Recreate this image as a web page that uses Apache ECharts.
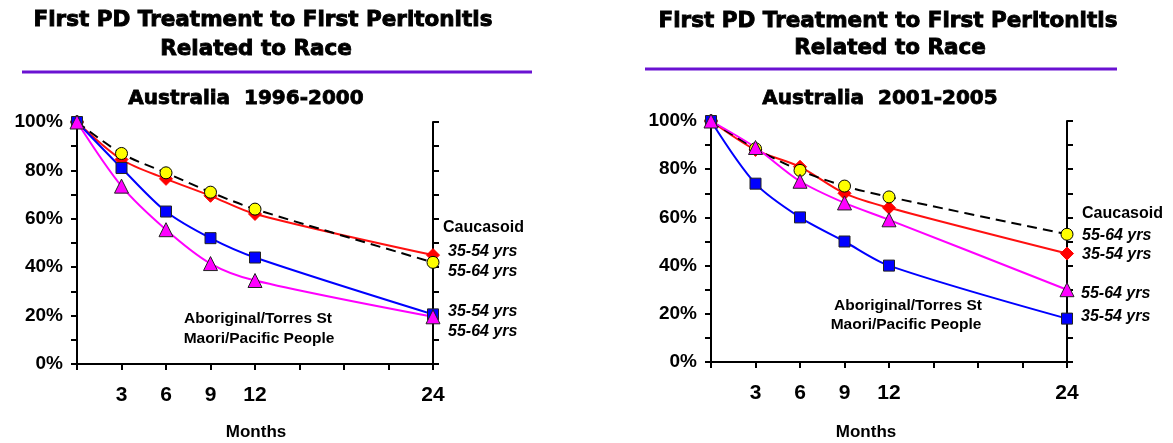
<!DOCTYPE html>
<html>
<head>
<meta charset="utf-8">
<script src="https://cdn.jsdelivr.net/npm/echarts@6/dist/echarts.min.js"></script>
<style>
  html, body { margin: 0; padding: 0; background: #fff; }
  #chart { width: 1173px; height: 443px; }
</style>
</head>
<body>
<div id="chart"></div>
<script>
// Months since first PD treatment
const months = [0, 3, 6, 9, 12, 24];
const monthLabels = [3, 6, 9, 12, 24];

// Australia 1996-2000: % free of peritonitis
const caucasoid3554A = [100, 84.5, 76.5, 69.5, 62, 45];
const caucasoid5564A = [100, 87, 79, 71, 64, 42];
const aboriginal3554A = [100, 81, 63, 52, 44, 20.5];
const aboriginal5564A = [100, 73.5, 55.5, 41.5, 34.5, 19.5];

// Australia 2001-2005: % free of peritonitis
const caucasoid3554B = [100, 88, 81, 70, 64, 45];
const caucasoid5564B = [100, 88.5, 79.5, 73, 68.5, 53];
const aboriginal3554B = [100, 74, 60, 50, 40, 18];
const aboriginal5564B = [100, 89, 75, 66, 59, 30];

const pair = (ys) => months.map((m, i) => [m, ys[i]]);

const chart = echarts.init(document.getElementById('chart'), null, { renderer: 'canvas' });

const axisLineStyle = { color: '#000', width: 2 };

function xAxis(gridIndex) {
  return {
    type: 'value', gridIndex, min: 0, max: 24, interval: 3,
    axisLine: { show: true, onZero: false, lineStyle: axisLineStyle },
    axisTick: { show: true, inside: false, length: 6, lineStyle: axisLineStyle },
    splitLine: { show: false },
    axisLabel: {
      margin: 21, color: '#000', fontFamily: 'Liberation Sans, Arial, sans-serif',
      fontWeight: 'bold', fontSize: 21,
      formatter: v => monthLabels.includes(v) ? String(v) : ''
    }
  };
}
function yAxisLeft(gridIndex) {
  return {
    type: 'value', gridIndex, min: 0, max: 100, interval: 10, position: 'left',
    axisLine: { show: true, lineStyle: axisLineStyle },
    axisTick: { show: true, inside: false, length: 6, lineStyle: axisLineStyle },
    splitLine: { show: false },
    axisLabel: {
      margin: 14, color: '#000', fontFamily: 'Liberation Sans, Arial, sans-serif',
      fontWeight: 'bold', fontSize: 19,
      formatter: v => v % 20 === 0 ? v + '%' : ''
    }
  };
}
function yAxisRight(gridIndex) {
  return {
    type: 'value', gridIndex, min: 0, max: 100, interval: 10, position: 'right',
    axisLine: { show: true, lineStyle: axisLineStyle },
    axisTick: { show: true, inside: false, length: 6, lineStyle: axisLineStyle },
    splitLine: { show: false },
    axisLabel: { show: false }
  };
}

function lineSeries(xi, yi, data, color, symbol, symbolSize, fill, dashed, border) {
  return {
    type: 'line', xAxisIndex: xi, yAxisIndex: yi, data: pair(data),
    smooth: 0.3, symbol, symbolSize,
    lineStyle: { color, width: 2, type: dashed ? [10, 6] : 'solid' },
    itemStyle: { color: fill, borderColor: border, borderWidth: 1 },
    z: 2, silent: true, animation: false
  };
}

function panelSeries(xi, yLeft, c3554, c5564, a3554, a5564) {
  return [
    lineSeries(xi, yLeft, c3554, '#ff1010', 'diamond', 13, '#ff0000', false, '#ff0000'),
    lineSeries(xi, yLeft, c5564, '#000000', 'circle', 12, '#ffff00', true, '#000'),
    lineSeries(xi, yLeft, a3554, '#0000ff', 'rect', 11, '#0000ff', false, '#222'),
    lineSeries(xi, yLeft, a5564, '#ff00ff', 'triangle', 14, '#ff00ff', false, '#222')
  ];
}

const heavy = 'bold 21.5px "DejaVu Sans", sans-serif';
const sub = 'bold 20px "DejaVu Sans", sans-serif';
const lbl = 'bold 16px "Liberation Sans", Arial, sans-serif';
const months18 = 'bold 17px "Liberation Sans", Arial, sans-serif';
const lblIt = 'italic bold 16px "Liberation Sans", Arial, sans-serif';
const grp = 'bold 15.5px "Liberation Sans", Arial, sans-serif';

function txt(x, y, text, font, align, weight) {
  const style = { text, font, fill: '#000', textAlign: align || 'center', textVerticalAlign: 'middle' };
  if (weight) { style.stroke = '#000'; style.lineWidth = weight; }
  return { type: 'text', x, y, silent: true, style };
}

const graphics = [
  // left panel headings
  txt(263, 20, 'First PD Treatment to First Peritonitis', heavy, 'center', 0.9),
  txt(256, 49, 'Related to Race', heavy, 'center', 0.9),
  { type: 'line', silent: true, shape: { x1: 22, y1: 72, x2: 532, y2: 72 },
    style: { stroke: '#6a12d2', lineWidth: 3 } },
  txt(246, 99, 'Australia  1996-2000', sub, 'center', 0.8),
  txt(443, 228, 'Caucasoid', lbl, 'left'),
  txt(448, 252, '35-54 yrs', lblIt, 'left'),
  txt(448, 272, '55-64 yrs', lblIt, 'left'),
  txt(448, 312, '35-54 yrs', lblIt, 'left'),
  txt(448, 332, '55-64 yrs', lblIt, 'left'),
  txt(258, 319, 'Aboriginal/Torres St', grp),
  txt(259, 339, 'Maori/Pacific People', grp),
  txt(256, 432, 'Months', months18),

  // right panel headings
  txt(888, 21, 'First PD Treatment to First Peritonitis', heavy, 'center', 0.9),
  txt(890, 48, 'Related to Race', heavy, 'center', 0.9),
  { type: 'line', silent: true, shape: { x1: 645, y1: 69, x2: 1117, y2: 69 },
    style: { stroke: '#6a12d2', lineWidth: 3 } },
  txt(880, 99, 'Australia  2001-2005', sub, 'center', 0.8),
  txt(1082, 214, 'Caucasoid', lbl, 'left'),
  txt(1082, 236, '55-64 yrs', lblIt, 'left'),
  txt(1082, 255, '35-54 yrs', lblIt, 'left'),
  txt(1081, 294, '55-64 yrs', lblIt, 'left'),
  txt(1081, 317, '35-54 yrs', lblIt, 'left'),
  txt(908, 306, 'Aboriginal/Torres St', grp),
  txt(906, 325, 'Maori/Pacific People', grp),
  txt(866, 432, 'Months', months18)
];

chart.setOption({
  backgroundColor: '#ffffff',
  animation: false,
  grid: [
    { left: 77, top: 122, width: 356, height: 242 },
    { left: 711, top: 121, width: 356, height: 241 }
  ],
  xAxis: [xAxis(0), xAxis(1)],
  yAxis: [yAxisLeft(0), yAxisRight(0), yAxisLeft(1), yAxisRight(1)],
  series: [
    ...panelSeries(0, 0, caucasoid3554A, caucasoid5564A, aboriginal3554A, aboriginal5564A),
    ...panelSeries(1, 2, caucasoid3554B, caucasoid5564B, aboriginal3554B, aboriginal5564B)
  ],
  graphic: graphics
});
</script>
</body>
</html>
